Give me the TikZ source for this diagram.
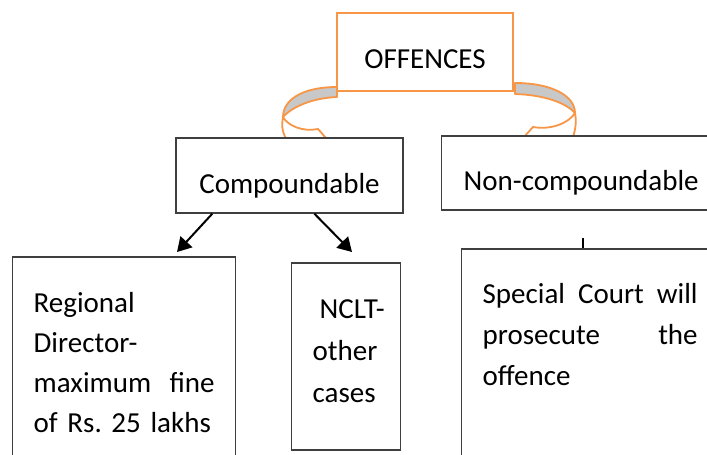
\documentclass[tikz,border=0pt]{standalone}
\usepackage{fontspec}
\setmainfont{Carlito}
\usetikzlibrary{arrows.meta}
\definecolor{offorange}{HTML}{F79646}
\definecolor{bandgray}{HTML}{C8C8C8}
\definecolor{boxline}{HTML}{3F3F3F}
\frenchspacing
\begin{document}
\begin{tikzpicture}[x=1pt,y=-1pt,
    txt/.style={font=\fontsize{29}{40}\selectfont},
    bbox/.style={txt, draw=boxline, line width=1.3pt, fill=white, inner sep=0pt},
    obox/.style={txt, draw=offorange, line width=2pt, fill=white, inner sep=0pt},
    ribbon/.style={draw=offorange, line width=1.8pt, line join=round},
    arr/.style={line width=2pt, -{Triangle[length=14pt,width=16pt]}}]
    \useasboundingbox (0,0) rectangle (707,455);
    \clip (0,0) rectangle (707,455);
    % curved arrow to the left
    \draw[ribbon, fill=white] (283,117) .. controls (281,128) and (283,134) .. (288,142)
        -- (310,142) -- (312,138) -- (326,138) -- (318,129)
        .. controls (303,132) and (288,126) .. (283,117);
    \draw[ribbon, fill=bandgray] (337,87) .. controls (302,87) and (283,100) .. (283,117)
        .. controls (292,107) and (312,98) .. (337,97) -- cycle;
    % curved arrow to the right
    \draw[ribbon, fill=white] (575,113) .. controls (577,123) and (575,133) .. (571,142)
        -- (540,142) -- (538,137) -- (524,137) -- (533,127)
        .. controls (550,130) and (568,124) .. (575,113);
    \draw[ribbon, fill=bandgray] (515,83) .. controls (552,83) and (575,96) .. (575,113)
        .. controls (566,103) and (545,95) .. (515,94) -- cycle;
    % boxes
    \node[obox, minimum width=176pt, text height=55pt, text depth=23pt, anchor=base]
        (offences) at (425,68) {OFFENCES};
    \node[bbox, minimum width=227pt, text height=55pt, text depth=20pt, anchor=base]
        (comp) at (289.5,193) {Compoundable};
    \node[bbox, inner xsep=22pt, text width=280pt, align=left, text height=54pt,
        text depth=20pt, anchor=base west] (noncomp) at (441,190) {Non-compoundable};
    \node[bbox, inner xsep=21pt, text width=181pt, align=left, text height=55pt,
        text depth=170pt, anchor=base west] (regional) at (12,312)
        {Regional\\ Director-\\ maximum\hfill fine\\ \mbox{of Rs. 25 lakhs}};
    \node[bbox, inner xsep=21pt, text width=67pt, align=left, text height=55pt,
        text depth=132pt, font=\fontsize{29}{42}\selectfont, anchor=base west]
        (nclt) at (291,318) {\hspace*{7pt}\mbox{NCLT-}\\ other\\ cases};
    \node[bbox, inner xsep=21pt, text width=215pt, align=left, text height=54pt,
        text depth=200pt, font=\fontsize{29}{41}\selectfont, anchor=base west]
        (special) at (461,303) {Special\hfill Court\hfill will\\ prosecute\hfill the\\ offence};
    % connectors
    \coordinate (regtip) at (177,252);
    \coordinate (nclttip) at (352,252);
    \coordinate (tick) at (583,238);
    \draw[arr] ([xshift=37pt]comp.south west) -- (regtip);
    \draw[arr] ([xshift=139pt]comp.south west) -- (nclttip);
    \draw[line width=2pt] (tick) -- (tick |- special.north);
\end{tikzpicture}
\end{document}
